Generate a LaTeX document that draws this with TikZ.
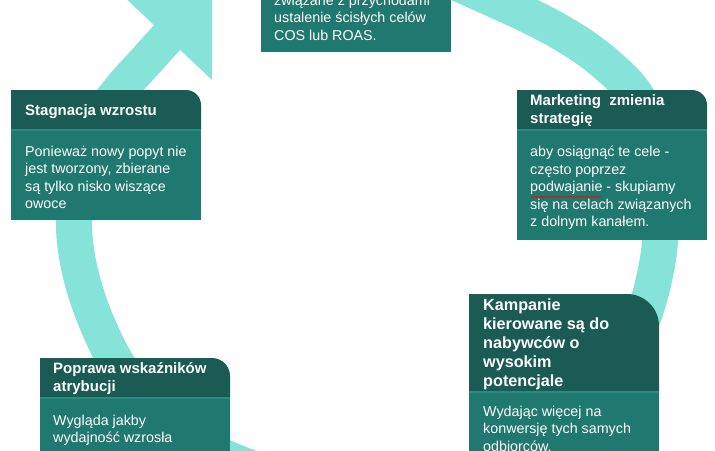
\documentclass[tikz,border=0pt]{standalone}
\usepackage{fontspec}
\setmainfont{Liberation Sans}
\usetikzlibrary{decorations.pathmorphing}
\definecolor{ringc}{HTML}{86E3D7}
\definecolor{headc}{HTML}{1A5B54}
\definecolor{bodyc}{HTML}{1F796E}
\definecolor{sepc}{HTML}{2C8A7E}
\begin{document}
\begin{tikzpicture}[x=1pt,y=-1pt,
  ttl/.style={anchor=north west,inner sep=0,align=left,text=white,font=\fontsize{15}{18}\selectfont\bfseries,execute at begin node=\strut},
  ttlbig/.style={ttl,font=\fontsize{16.2}{19}\selectfont\bfseries},
  txt/.style={anchor=north west,inner sep=0,align=left,text=white,font=\fontsize{14.3}{17.5}\selectfont,execute at begin node=\strut},
  sep/.style={sepc,line width=1.2pt}]
\useasboundingbox (0,0) rectangle (715,450);
\clip (0,0) rectangle (715,450);
% ring
\draw[ringc,line width=36pt] plot[smooth,tension=0.6] coordinates {(330,-45) (420,-30) (495,0) (560,32) (606,64) (640,102) (657,160) (661,220) (655,275) (636,335) (600,395) (540,448) (460,482) (370,490) (290,479) (233,461) (190,438) (155,408) (120,368) (100,330) (85,290) (76,250) (74,210) (80,165) (95,125) (120,90) (145,62) (172,32)};
\fill[ringc] (119,-8) -- (212,-8) -- (212,80) -- cycle;
% boxes
\fill[bodyc] (261,-5) rectangle (451,52);
\fill[headc] (11,130) -- (11,90) [rounded corners=15pt] -- (201,90) [sharp corners] -- (201,130) -- cycle;
\fill[bodyc] (11,130) rectangle (201,220);
\draw[sep] (11,130) -- (201,130);
\fill[headc] (517,130) -- (517,90) [rounded corners=15pt] -- (707,90) [sharp corners] -- (707,130) -- cycle;
\fill[bodyc] (517,130) rectangle (707,240);
\draw[sep] (517,130) -- (707,130);
\fill[headc] (469,392) -- (469,294) [rounded corners=32pt] -- (659,294) [sharp corners] -- (659,392) -- cycle;
\fill[bodyc] (469,392) rectangle (659,455);
\draw[sep] (469,392) -- (659,392);
\fill[headc] (40,398) -- (40,358) [rounded corners=18pt] -- (230,358) [sharp corners] -- (230,398) -- cycle;
\fill[bodyc] (40,398) rectangle (230,455);
\draw[sep] (40,398) -- (230,398);
% texts (first baseline minus strut height)
\node[txt] (T) at (274,-5.2) {związane z przychodami\\ustalenie ścisłych celów\\COS lub ROAS.};
\node[ttl] (Sh) at (25,102.4) {Stagnacja wzrostu};
\node[txt] (Sb) at (25,145.8) {Ponieważ nowy popyt nie\\jest tworzony, zbierane\\są tylko nisko wiszące\\owoce};
\node[ttl] (Mh) at (530,94.4) {Marketing~ zmienia\\strategię};
\node[txt] (Mb) at (530,145.8) {aby osiągnąć te cele -\\często poprzez\\podwajanie - skupiamy\\się na celach związanych\\z dolnym kanałem.};
\draw[red,line width=0.6pt,decorate,decoration={snake,amplitude=0.8pt,segment length=3pt}] (531,197) -- (601,197);
\node[ttlbig] (Kh) at (483,298.7) {Kampanie\\kierowane są do\\nabywców o\\wysokim\\potencjale};
\node[txt] (Kb) at (483,405.8) {Wydając więcej na\\konwersję tych samych\\odbiorców.};
\node[ttl] (Ph) at (53,362.4) {Poprawa wskaźników\\atrybucji};
\node[txt] (Pb) at (53,414.8) {Wygląda jakby\\wydajność wzrosła};
\end{tikzpicture}
\end{document}
